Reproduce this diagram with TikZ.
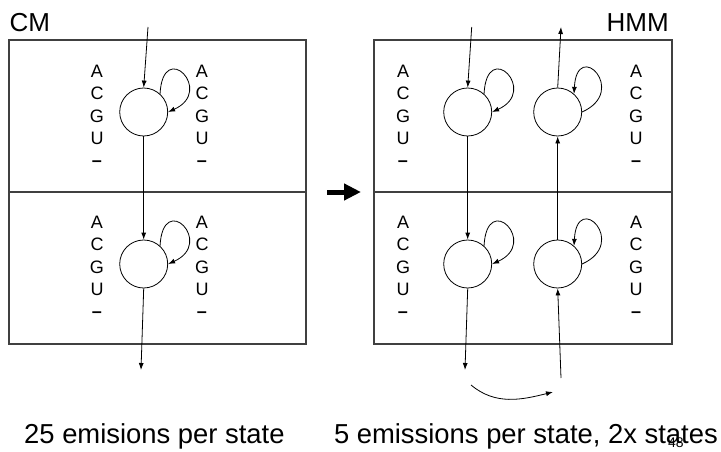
\documentclass[tikz,border=0pt]{standalone}
\usepackage{fontspec}
\setmainfont{Liberation Sans}
\usepackage{tikz}
\usetikzlibrary{positioning,arrows.meta}
\tikzstyle{panel} = [draw=black!75, line width=1.2pt, rectangle, minimum width=297pt, minimum height=152pt, outer sep=0pt, inner sep=0pt]
\tikzstyle{state} = [draw, circle, line width=0.8pt, minimum size=48pt, inner sep=0pt]
\tikzstyle{emit} = [anchor=north, align=center, inner sep=0pt, font=\fontsize{18}{22.3}\selectfont]
\tikzstyle{trans} = [line width=0.8pt, -{Latex[length=7pt,width=5pt]}]
\tikzstyle{title} = [inner sep=0pt, font=\fontsize{26}{30}\selectfont]
\tikzstyle{caption} = [inner sep=0pt, font=\fontsize{27.4}{32}\selectfont]

\begin{document}
\begin{tikzpicture}[x=1pt, y=1pt]
	\useasboundingbox (0,0) rectangle (721,451);

	% left panel: CM
	\node [panel] (cmtop) at (157.5,335) {};
	\node [panel, below=0pt of cmtop] (cmbot) {};
	\node [state] (cm1) at (143.7,339) {};
	\node [state] (cm2) at (143.7,187) {};
	\node [emit] (cmAl) at (97,386) {A\\C\\G\\U\\\textbf{--}};
	\node [emit] (cmAr) at (202,386) {A\\C\\G\\U\\\textbf{--}};
	\node [emit] (cmBl) at (97,235) {A\\C\\G\\U\\\textbf{--}};
	\node [emit] (cmBr) at (202,235) {A\\C\\G\\U\\\textbf{--}};
	\node [title, anchor=base west] (cmlabel) at (9.5,419) {CM};

	\coordinate (cmin) at (148,424);
	\coordinate (cmout) at (141,81);
	\draw [trans] (cmin) -- (cm1.north);
	\draw [trans] (cm1.south) -- (cm2.north);
	\draw [trans] (cm2.south) -- (cmout);
	\draw [trans] (cm1.48) .. controls +(3,56) and +(47,21) .. (cm1.east);
	\draw [trans] (cm2.48) .. controls +(3,56) and +(47,21) .. (cm2.east);

	% conversion arrow
	\coordinate (conva) at (327,259);
	\coordinate (convb) at (361,259);
	\draw [line width=5pt, -{Triangle[length=17pt,width=16pt]}] (conva) -- (convb);

	% right panel: HMM
	\node [panel, minimum width=298pt] (hmmtop) at (523,335) {};
	\node [panel, minimum width=298pt, below=0pt of hmmtop] (hmmbot) {};
	\node [state] (hm1) at (467.7,339) {};
	\node [state] (hm2) at (557.7,339) {};
	\node [state] (hm3) at (467.7,187) {};
	\node [state] (hm4) at (557.7,187) {};
	\node [emit] (hmAl) at (403,386) {A\\C\\G\\U\\\textbf{--}};
	\node [emit] (hmAr) at (636,386) {A\\C\\G\\U\\\textbf{--}};
	\node [emit] (hmBl) at (403,235) {A\\C\\G\\U\\\textbf{--}};
	\node [emit] (hmBr) at (636,235) {A\\C\\G\\U\\\textbf{--}};
	\node [title, anchor=base east] (hmmlabel) at (669,419) {HMM};

	\coordinate (hmin) at (471.7,424);
	\coordinate (hmout) at (561,424);
	\coordinate (hmdown) at (465,81);
	\coordinate (hmup) at (561,73);
	\coordinate (turna) at (471,66);
	\coordinate (turnb) at (553,59);
	\draw [trans] (hmin) -- (hm1.north);
	\draw [trans] (hm1.south) -- (hm3.north);
	\draw [trans] (hm3.south) -- (hmdown);
	\draw [trans] (hmup) -- (hm4.south);
	\draw [trans] (hm4.north) -- (hm2.south);
	\draw [trans] (hm2.north) -- (hmout);
	\draw [trans] (turna) to[out=-40, in=194] (turnb);
	\draw [trans] (hm1.48) .. controls +(3,56) and +(47,21) .. (hm1.east);
	\draw [trans] (hm3.48) .. controls +(3,56) and +(47,21) .. (hm3.east);
	\draw [trans] (hm2.east) .. controls +(47,21) and +(3,56) .. (hm2.48);
	\draw [trans] (hm4.east) .. controls +(47,21) and +(3,56) .. (hm4.48);

	% captions
	\node [caption, anchor=base west] (cmcap) at (24,7.5) {25 emisions per state};
	\node [caption, anchor=base east] (hmmcap) at (718,7.5) {5 emissions per state, 2x states};
	\node [inner sep=0pt, anchor=base west, font=\fontsize{14}{16}\selectfont] (pagenum) at (668,4) {48};
\end{tikzpicture}
\end{document}
